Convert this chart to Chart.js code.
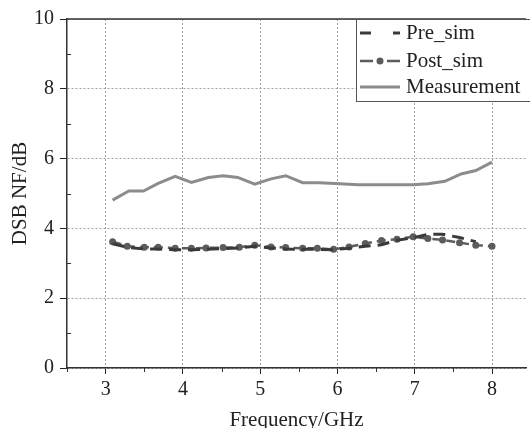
<!DOCTYPE html>
<html>
<head>
<meta charset="utf-8">
<script src="https://cdn.jsdelivr.net/npm/chart.js@4.4.1/dist/chart.umd.min.js"></script>
<style>
  html, body { margin: 0; padding: 0; background: #fff; overflow: hidden; }
  #chart { display: block; }
</style>
</head>
<body>
<canvas id="chart" width="530" height="428"></canvas>
<script>
// values
const freqMeas = [3.09, 3.30, 3.49, 3.68, 3.90, 4.11, 4.33, 4.52, 4.71, 4.93, 5.14, 5.33, 5.55, 5.76, 5.97, 6.27, 6.98, 7.17, 7.39, 7.60, 7.79, 8.00];
const nfMeas = [4.81, 5.07, 5.07, 5.29, 5.49, 5.32, 5.46, 5.51, 5.46, 5.27, 5.42, 5.51, 5.31, 5.31, 5.29, 5.25, 5.25, 5.28, 5.35, 5.56, 5.66, 5.90];

const freqSim = [3.09, 3.28, 3.50, 3.68, 3.90, 4.11, 4.30, 4.52, 4.73, 4.93, 5.14, 5.33, 5.55, 5.74, 5.95, 6.15, 6.36, 6.57, 6.77, 6.98, 7.17, 7.36, 7.58, 7.79, 8.00];
const nfPost = [3.62, 3.49, 3.46, 3.46, 3.43, 3.43, 3.44, 3.45, 3.46, 3.52, 3.47, 3.45, 3.43, 3.43, 3.40, 3.47, 3.57, 3.65, 3.69, 3.76, 3.71, 3.67, 3.59, 3.52, 3.49];
const nfPre = [3.56, 3.46, 3.41, 3.41, 3.39, 3.39, 3.40, 3.42, 3.44, 3.49, 3.44, 3.41, 3.40, 3.40, 3.39, 3.43, 3.49, 3.53, 3.66, 3.73, 3.83, 3.83, 3.74, 3.62];

const xTicks = [3, 4, 5, 6, 7, 8];
const yTicks = [0, 2, 4, 6, 8, 10];
const xMinor = [2.5, 3.5, 4.5, 5.5, 6.5, 7.5];
const yMinor = [1, 3, 5, 7, 9];

const FONT = 'Liberation Serif, Times New Roman, serif';
const INK = '#222';

function pts(xs, ys) {
    return ys.map((y, i) => ({ x: xs[i], y: y }));
}

// top frame line, minor ticks and the boxed legend in the upper right
const decor = {
    id: 'decor',
    afterDraw(chart) {
        const ctx = chart.ctx;
        const a = chart.chartArea;
        const xs = chart.scales.x, ys = chart.scales.y;
        ctx.save();
        ctx.strokeStyle = '#333';
        ctx.lineWidth = 1.5;
        ctx.beginPath();
        ctx.moveTo(a.left, a.top);
        ctx.lineTo(a.right, a.top);
        ctx.stroke();

        ctx.lineWidth = 1;
        ctx.beginPath();
        xMinor.forEach(v => {
            const px = Math.round(xs.getPixelForValue(v)) + 0.5;
            ctx.moveTo(px, a.bottom);
            ctx.lineTo(px, a.bottom + 4);
        });
        yMinor.forEach(v => {
            const py = Math.round(ys.getPixelForValue(v)) + 0.5;
            ctx.moveTo(a.left, py);
            ctx.lineTo(a.left + 4, py);
        });
        ctx.stroke();

        // legend
        const bx = 356, by = a.top, bw = 180, bh = 82;
        ctx.fillStyle = '#fff';
        ctx.fillRect(bx, by, bw, bh);
        ctx.strokeStyle = '#555';
        ctx.lineWidth = 1;
        ctx.strokeRect(bx + 0.5, by + 0.5, bw, bh);

        const rows = [14, 42, 68];
        chart.data.datasets.forEach((ds, i) => {
            const y = by + rows[i];
            ctx.strokeStyle = ds.borderColor;
            ctx.lineWidth = ds.borderWidth;
            ctx.setLineDash(ds.legendDash || []);
            ctx.beginPath();
            ctx.moveTo(360, y);
            ctx.lineTo(400, y);
            ctx.stroke();
            ctx.setLineDash([]);
            if (ds.pointRadius > 0) {
                ctx.fillStyle = ds.pointBackgroundColor;
                ctx.beginPath();
                ctx.arc(380, y, ds.pointRadius, 0, Math.PI * 2);
                ctx.fill();
            }
            ctx.fillStyle = INK;
            ctx.font = '21px ' + FONT;
            ctx.textBaseline = 'middle';
            ctx.textAlign = 'left';
            ctx.fillText(ds.label, 406, y);
        });
        ctx.restore();
    }
};

new Chart(document.getElementById('chart'), {
    type: 'line',
    data: {
        datasets: [
            {
                label: 'Pre_sim',
                data: pts(freqSim, nfPre),
                borderColor: '#3a3a3a',
                borderWidth: 3,
                borderDash: [12, 7],
                legendDash: [11, 22, 7, 0],
                pointRadius: 0,
                tension: 0
            },
            {
                label: 'Post_sim',
                data: pts(freqSim, nfPost),
                borderColor: '#5c5c5c',
                borderWidth: 2.5,
                borderDash: [9, 5],
                legendDash: [13, 14],
                pointRadius: 3.5,
                pointBackgroundColor: '#5c5c5c',
                pointBorderWidth: 0,
                tension: 0
            },
            {
                label: 'Measurement',
                data: pts(freqMeas, nfMeas),
                borderColor: '#8c8c8c',
                borderWidth: 3,
                pointRadius: 0,
                tension: 0
            }
        ]
    },
    options: {
        responsive: false,
        animation: false,
        devicePixelRatio: 1,
        layout: { padding: { top: 19, right: 0, left: 0, bottom: 0 } },
        plugins: { legend: { display: false }, tooltip: { enabled: false } },
        scales: {
            x: {
                type: 'linear',
                min: 2.5,
                max: 8.44,
                afterBuildTicks: s => { s.ticks = xTicks.map(v => ({ value: v })); },
                afterFit: s => { s.height = 60; },
                grid: {
                    color: '#a0a0a0',
                    lineWidth: 1,
                    tickColor: INK,
                    tickLength: 6,
                    tickBorderDash: []
                },
                border: { color: '#333', width: 1.5, dash: [2, 2] },
                ticks: { color: INK, font: { family: FONT, size: 20 }, padding: 4, maxRotation: 0 },
                title: {
                    display: true,
                    text: 'Frequency/GHz',
                    color: INK,
                    font: { family: FONT, size: 21, lineHeight: 1 },
                    padding: { top: 0, bottom: -3 }
                }
            },
            y: {
                min: 0,
                max: 10,
                afterBuildTicks: s => { s.ticks = yTicks.map(v => ({ value: v })); },
                afterFit: s => { s.width = 67; },
                grid: {
                    color: '#a0a0a0',
                    lineWidth: 1,
                    tickColor: INK,
                    tickLength: 7,
                    tickBorderDash: []
                },
                border: { color: '#333', width: 1.5, dash: [2, 2] },
                ticks: { color: INK, font: { family: FONT, size: 20 }, padding: 6 },
                title: {
                    display: true,
                    text: 'DSB NF/dB',
                    color: INK,
                    font: { family: FONT, size: 21, lineHeight: 1 },
                    padding: { top: 10, bottom: 0 }
                }
            }
        }
    },
    plugins: [decor]
});
</script>
</body>
</html>
